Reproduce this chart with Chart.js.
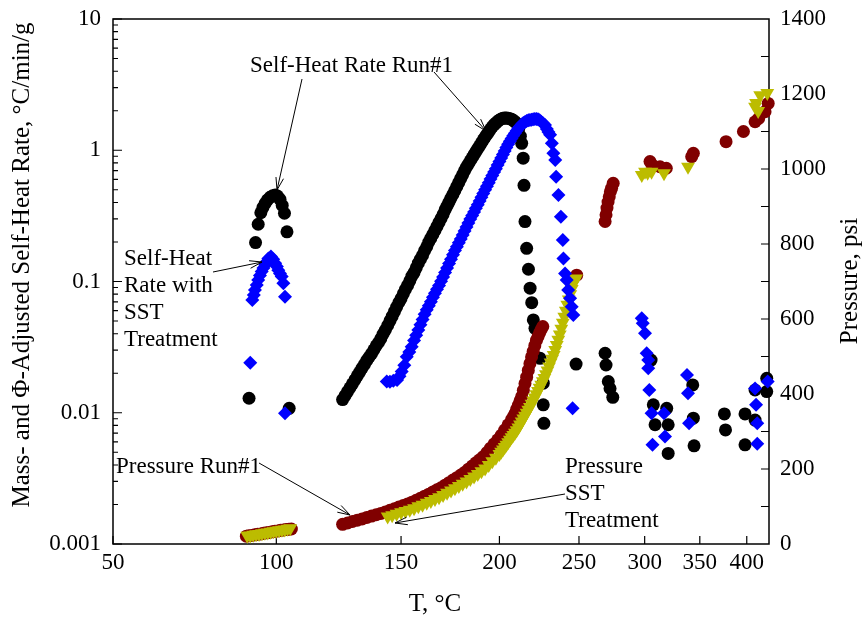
<!DOCTYPE html>
<html>
<head>
<meta charset="utf-8">
<script src="https://cdn.jsdelivr.net/npm/chart.js@4"></script>
<style>
  html, body { margin: 0; padding: 0; background: #fff; }
  canvas { display: block; }
</style>
</head>
<body>
<canvas id="arc" width="864" height="619"></canvas>
<script>
// ARC runs: temperature in degC, self-heat rate in degC/min/g, pressure in psi

// Self-heat rate, run #1
const run1T = [
  90.6, 92.8, 93.7, 94.6, 95.3, 96.1, 96.9, 97.8, 98.7, 99.6, 100.4, 101.3, 102.1, 102.9, 103.8, 104.6,
  125, 126, 127, 128, 129, 130, 131, 132, 133, 134, 135, 136, 137, 138, 139, 140, 141, 142, 143, 144,
  145, 146, 147, 148, 149, 150, 151, 152, 153, 154, 155, 156, 157, 158, 159, 160, 161, 162, 163, 164,
  165, 166, 167, 168, 169, 170, 171, 172, 173, 174, 175, 176, 177, 178, 179, 180, 181, 182, 183, 184,
  185, 186, 187, 188, 189, 190, 191, 192, 193, 194, 195, 196, 197, 198, 199, 200, 201, 202, 203, 204,
  205, 206, 207, 208, 209, 210, 211.2, 212.2,
  213.0, 213.9, 214.4, 215.0, 216.0, 217.1, 218.1, 219.1, 220.1, 221.1, 224.3, 226.3, 226.3, 226.7,
  248.0, 268.8, 269.5, 271.2, 272.5, 274.6, 305.4, 307.3, 308.8, 319.0, 320.3, 320.3,
  343.1, 343.7, 344.4, 375.2, 376.4, 398.0, 398.0, 409.7, 409.7, 423.8, 423.8
];
const run1Rate = [
  0.0129, 0.198, 0.273, 0.334, 0.365, 0.394, 0.418, 0.438, 0.450, 0.456, 0.448, 0.423, 0.380, 0.331, 0.239, 0.0108,
  0.0126, 0.0135, 0.0145, 0.0155, 0.0166, 0.0178, 0.0191, 0.0204, 0.0219, 0.0234, 0.0251, 0.0266, 0.0282, 0.0302, 0.0324, 0.0343, 0.0367, 0.0398, 0.0427, 0.0462,
  0.0501, 0.0543, 0.0589, 0.0638, 0.0692, 0.0741, 0.0804, 0.0871, 0.0933, 0.101, 0.110, 0.117, 0.127, 0.138, 0.148, 0.158, 0.172, 0.184, 0.200, 0.214,
  0.229, 0.245, 0.263, 0.282, 0.302, 0.324, 0.351, 0.376, 0.403, 0.432, 0.462, 0.495, 0.531, 0.569, 0.610, 0.653, 0.700, 0.745, 0.785, 0.832,
  0.877, 0.927, 0.977, 1.03, 1.08, 1.14, 1.20, 1.26, 1.32, 1.38, 1.45, 1.51, 1.57, 1.61, 1.66, 1.70, 1.73, 1.75, 1.76, 1.76,
  1.75, 1.74, 1.72, 1.69, 1.65, 1.60, 1.45, 1.28,
  1.13, 0.87, 0.54, 0.286, 0.179, 0.124, 0.089, 0.069, 0.051, 0.044, 0.026, 0.0168, 0.0115, 0.0083,
  0.0235, 0.0284, 0.0231, 0.0173, 0.0153, 0.0131, 0.0252, 0.0115, 0.0081, 0.0108, 0.0081, 0.0049,
  0.0163, 0.0091, 0.0056, 0.0098, 0.0074, 0.0098, 0.0057, 0.0149, 0.0088, 0.0183, 0.0145
];

// Self-heat rate with SST treatment
const sstT = [
  91.0, 91.7, 92.2, 92.6, 93.2, 93.7, 94.3, 94.9, 95.5, 96.1, 96.7, 97.2, 98.1, 98.9, 99.6, 100.2,
  100.7, 101.3, 101.9, 102.5, 103.1, 103.1,
  143.6, 145.0, 146.5, 148.2, 149.3, 150.3, 151.5, 152.6, 153.8, 154.9,
  156, 157, 158, 159, 160, 161, 162, 163, 164, 165, 166, 167, 168, 169, 170, 171, 172, 173, 174, 175,
  176, 177, 178, 179, 180, 181, 182, 183, 184, 185, 186, 187, 188, 189, 190, 191, 192, 193, 194, 195,
  196, 197, 198, 199, 200, 201, 202, 203, 204, 205, 206, 207, 208, 209, 210, 211, 212, 213, 214, 215,
  216, 217, 218, 219, 220, 221, 222, 223, 224, 225, 226,
  227.4, 228.6, 229.6, 230.7, 231.8, 232.8, 234.0, 234.6, 236.1, 237.7, 239.0, 239.4, 240.5, 241.6,
  242.6, 243.9, 245.0, 246.1, 245.6,
  297.6, 298.4, 300.3, 301.7, 303.0, 303.0, 303.9, 305.8, 306.6, 316.6, 317.5, 337.6, 338.6, 339.6,
  409.7, 410.9, 412.3, 412.3, 425.0
];
const sstRate = [
  0.024, 0.0722, 0.079, 0.0861, 0.094, 0.1026, 0.111, 0.119, 0.127, 0.134, 0.142, 0.150, 0.155, 0.148, 0.138, 0.130,
  0.122, 0.115, 0.109, 0.097, 0.0766, 0.0099,
  0.0173, 0.0172, 0.0175, 0.0178, 0.0190, 0.0206, 0.0230, 0.0267, 0.0290, 0.0319,
  0.0355, 0.0389, 0.0427, 0.0468, 0.0513, 0.0562, 0.0610, 0.0653, 0.0700, 0.0759, 0.0813, 0.0871, 0.0933, 0.1005, 0.108, 0.117, 0.127, 0.137, 0.148, 0.160,
  0.172, 0.184, 0.197, 0.211, 0.226, 0.243, 0.260, 0.279, 0.299, 0.318, 0.339, 0.361, 0.385, 0.411, 0.439, 0.468, 0.499, 0.531, 0.566, 0.603,
  0.641, 0.682, 0.724, 0.771, 0.820, 0.871, 0.927, 0.986, 1.05, 1.11, 1.17, 1.23, 1.29, 1.35, 1.41, 1.47, 1.52, 1.57, 1.61, 1.64,
  1.67, 1.69, 1.70, 1.71, 1.72, 1.73, 1.73, 1.72, 1.69, 1.65, 1.61,
  1.56, 1.45, 1.38, 1.31, 1.13, 0.949, 0.843, 0.629, 0.456, 0.311, 0.207, 0.150, 0.115, 0.1026,
  0.0861, 0.0744, 0.0643, 0.0556, 0.0108,
  0.0525, 0.0481, 0.0403, 0.0284, 0.0252, 0.0218, 0.0149, 0.0099, 0.0057, 0.0099, 0.0066, 0.0194, 0.0141, 0.0083,
  0.0153, 0.0115, 0.0083, 0.0058, 0.0173
];

// Pressure, run #1
const run1PT = [
  89.7, 90.5, 91.5, 92.5, 93.5, 94.5, 95.5, 96.5, 97.5, 98.5, 99.5, 100.5, 101.5, 102.5, 103.5, 104.5, 105.4,
  125, 127, 129, 131, 133, 135, 137, 139, 141, 143, 145, 147, 149, 151, 153, 155, 157, 159, 161, 163,
  165, 167, 169, 171, 173, 175, 177, 179, 181, 183, 185, 187, 189, 191, 193, 195, 197, 199, 201, 203,
  205, 207, 208, 209, 210, 211, 212, 213, 214, 215, 216, 217, 218, 219, 220, 221, 222, 223, 224, 225, 226,
  248.4, 268.8, 269.5, 270.2, 271.0, 271.9, 272.8, 273.7, 274.9, 304.5, 306.2, 313.1, 318.6,
  342.1, 343.7, 377.0, 396.2, 409.7, 414.0, 421.7, 425.6
];
const run1Psi = [
  21, 22, 23, 24.5, 26, 27, 28.5, 30, 31, 32.5, 34, 35, 36.5, 37.5, 38.5, 39.5, 40,
  52.5, 56, 60, 63.5, 67, 71, 74.5, 78, 81.5, 85.5, 90, 94, 98.5, 102.5, 107, 111.5, 116.5, 122, 127.5, 133,
  139, 144.5, 150, 157, 163.5, 170.5, 177, 184, 191, 199.5, 208, 216.5, 224.5, 233, 244, 255.5, 267, 278, 290, 304,
  318, 331.5, 339, 348, 359, 370, 381.5, 393, 410, 428, 445, 463, 481, 499, 514, 529, 543, 553, 563, 572, 580,
  717, 860, 878, 896, 912, 926, 940, 949, 962, 1020, 1011, 1006, 1002,
  1033, 1042, 1073, 1100, 1126, 1135, 1153, 1175
];

// Pressure with SST treatment
const sstPT = [
  90, 91, 92, 93, 94, 95, 96, 97, 98, 99, 100, 101, 102, 103, 104, 105,
  144, 146, 148, 150, 152, 154, 156, 158, 160, 162, 164, 166, 168, 170, 172, 174, 176, 178, 180, 182,
  184, 186, 188, 190, 192, 194, 196, 198, 200, 201, 202, 203, 204, 205, 206, 207, 208, 209, 210, 211,
  212, 213, 214, 215, 216, 217, 218, 219, 220, 221, 222, 223, 224, 225, 226, 227, 228, 229, 230, 231,
  232, 233, 234, 235, 236, 237, 238, 239, 240, 241, 242, 243, 244, 245, 246, 247, 248,
  297.6, 300.3, 302.5, 305.8, 316.6, 338.6, 409.7, 410.9, 413.4, 415.8, 424.5
];
const sstPsi = [
  22, 23, 24.5, 26, 27, 28.5, 30, 31, 32.5, 34, 35.5, 36.5, 38, 39, 40.5, 42,
  73.5, 77, 81, 84.5, 88, 91.5, 95.5, 100.5, 105, 110, 115, 120, 125, 130.5, 136.5, 142.5, 148.5, 154.5, 161, 167,
  173.5, 180, 187, 194, 201.5, 211, 220.5, 230, 240, 246, 252, 259, 265, 271.5, 278, 284.5, 291, 297, 303.5, 311,
  319, 326.5, 334.5, 342, 350, 358, 365.5, 374, 382.5, 391, 399.5, 408, 416.5, 425, 434, 443, 453, 463, 473.5, 484,
  494, 504, 517.5, 531, 545, 558.5, 574, 590, 606, 622, 638, 652, 666, 680, 694, 701, 708,
  984, 993, 990, 993, 989, 1006, 1166, 1176, 1155, 1197, 1203
];

const tempTicks = [50, 100, 150, 200, 250, 300, 350, 400];
const rateTicks = [0.001, 0.01, 0.1, 1, 10];
const psiTicks = [0, 200, 400, 600, 800, 1000, 1200, 1400];

// the temperature axis is linear in -1/T (kelvin), labelled in degC
const inv = t => -1000 / (t + 273.15);
const pts = (ts, vs) => ts.map((t, i) => ({ x: inv(t), y: vs[i] }));

const serif = '"Liberation Serif", "Times New Roman", serif';
Chart.defaults.font.family = serif;
Chart.defaults.color = '#000';

const axisTitles = [
  { text: 'Mass- and Φ-Adjusted Self-Heat Rate, °C/min/g', x: 22, y: 265, rot: -Math.PI / 2 },
  { text: 'Pressure, psi', x: 850, y: 281, rot: -Math.PI / 2 },
  { text: 'T, °C', x: 435, y: 604, rot: 0 }
];
const notes = [
  { lines: ['Self-Heat Rate Run#1'], x: 250, y: 66 },
  { lines: ['Self-Heat', 'Rate with', 'SST', 'Treatment'], x: 124, y: 259 },
  { lines: ['Pressure Run#1'], x: 116, y: 467 },
  { lines: ['Pressure', 'SST', 'Treatment'], x: 565, y: 467 }
];
const arrows = [
  [302, 79, 277, 190],
  [434, 72, 486, 131],
  [213, 272, 262, 262],
  [259, 463, 350, 515],
  [565, 494, 395, 523]
];

// box round the plot with ticks pointing inwards, plus axis titles
const frame = {
  id: 'frame',
  beforeDatasetsDraw(chart) {
    const { ctx, chartArea: a, scales } = chart;
    ctx.save();
    ctx.strokeStyle = '#000';
    ctx.lineWidth = 1.5;
    ctx.strokeRect(a.left, a.top, a.right - a.left, a.bottom - a.top);
    ctx.lineWidth = 1.2;
    ctx.beginPath();
    tempTicks.forEach(t => {
      const px = scales.x.getPixelForValue(inv(t));
      ctx.moveTo(px, a.bottom);
      ctx.lineTo(px, a.bottom - 8);
    });
    rateTicks.forEach((d, i) => {
      const py = scales.y.getPixelForValue(d);
      ctx.moveTo(a.left, py);
      ctx.lineTo(a.left + 9, py);
      if (i === rateTicks.length - 1) return;
      for (let k = 2; k <= 9; k++) {
        const my = scales.y.getPixelForValue(d * k);
        ctx.moveTo(a.left, my);
        ctx.lineTo(a.left + 5, my);
      }
    });
    for (let p = 100; p < 1400; p += 100) {
      const py = scales.p.getPixelForValue(p);
      ctx.moveTo(a.right, py);
      ctx.lineTo(a.right - 8, py);
    }
    ctx.stroke();
    ctx.restore();
  },
  afterDraw(chart) {
    const { ctx } = chart;
    ctx.save();
    ctx.font = '25px ' + serif;
    ctx.fillStyle = '#000';
    ctx.textAlign = 'center';
    ctx.textBaseline = 'middle';
    axisTitles.forEach(t => {
      ctx.save();
      ctx.translate(t.x, t.y);
      ctx.rotate(t.rot);
      ctx.fillText(t.text, 0, 0);
      ctx.restore();
    });
    ctx.restore();
  }
};

// text labels with open-headed arrows
const callouts = {
  id: 'callouts',
  afterDatasetsDraw(chart) {
    const { ctx } = chart;
    ctx.save();
    ctx.fillStyle = '#000';
    ctx.strokeStyle = '#000';
    ctx.font = '23px ' + serif;
    ctx.textAlign = 'left';
    ctx.textBaseline = 'middle';
    notes.forEach(n => n.lines.forEach((s, i) => ctx.fillText(s, n.x, n.y + i * 27)));
    ctx.lineWidth = 1;
    arrows.forEach(([x1, y1, x2, y2]) => {
      const ang = Math.atan2(y2 - y1, x2 - x1);
      ctx.beginPath();
      ctx.moveTo(x1, y1);
      ctx.lineTo(x2, y2);
      [0.3, -0.3].forEach(d => {
        ctx.moveTo(x2, y2);
        ctx.lineTo(x2 - 13 * Math.cos(ang + d), y2 - 13 * Math.sin(ang + d));
      });
      ctx.stroke();
    });
    ctx.restore();
  }
};

const tickFont = { size: 23, family: serif };

new Chart(document.getElementById('arc'), {
  type: 'scatter',
  data: {
    datasets: [
      {
        label: 'Self-Heat Rate with SST Treatment',
        data: pts(sstT, sstRate),
        yAxisID: 'y',
        order: 0,
        pointStyle: 'rectRot',
        pointRadius: 7,
        pointBackgroundColor: '#0000ff',
        pointBorderColor: '#0000ff',
        pointBorderWidth: 0
      },
      {
        label: 'Pressure SST Treatment',
        data: pts(sstPT, sstPsi),
        yAxisID: 'p',
        order: 1,
        pointStyle: 'triangle',
        rotation: 180,
        pointRadius: 8,
        pointBackgroundColor: '#bcbc00',
        pointBorderColor: '#bcbc00',
        pointBorderWidth: 0
      },
      {
        label: 'Pressure Run#1',
        data: pts(run1PT, run1Psi),
        yAxisID: 'p',
        order: 2,
        pointStyle: 'circle',
        pointRadius: 6.5,
        pointBackgroundColor: '#800000',
        pointBorderColor: '#800000',
        pointBorderWidth: 0
      },
      {
        label: 'Self-Heat Rate Run#1',
        data: pts(run1T, run1Rate),
        yAxisID: 'y',
        order: 3,
        pointStyle: 'circle',
        pointRadius: 6.5,
        pointBackgroundColor: '#000',
        pointBorderColor: '#000',
        pointBorderWidth: 0
      }
    ]
  },
  options: {
    responsive: false,
    devicePixelRatio: 1,
    animation: false,
    events: [],
    clip: false,
    layout: { padding: { top: 19 } },
    plugins: {
      legend: { display: false },
      tooltip: { enabled: false }
    },
    scales: {
      x: {
        type: 'linear',
        min: inv(50),
        max: inv(426.6),
        grid: { display: false, drawTicks: false },
        border: { display: false },
        afterBuildTicks: s => { s.ticks = tempTicks.map(t => ({ value: inv(t) })); },
        afterFit: s => { s.height = 75; s.paddingLeft = 0; s.paddingRight = 0; },
        ticks: {
          font: tickFont,
          padding: 5,
          maxRotation: 0,
          autoSkip: false,
          callback: v => String(Math.round(-1000 / v - 273.15))
        }
      },
      y: {
        type: 'logarithmic',
        position: 'left',
        min: 0.001,
        max: 10,
        grid: { display: false, drawTicks: false },
        border: { display: false },
        afterBuildTicks: s => { s.ticks = rateTicks.map(v => ({ value: v })); },
        afterFit: s => { s.width = 113; s.paddingTop = 0; s.paddingBottom = 0; },
        ticks: { font: tickFont, padding: 12, callback: v => String(v) }
      },
      p: {
        type: 'linear',
        position: 'right',
        min: 0,
        max: 1400,
        grid: { display: false, drawTicks: false },
        border: { display: false },
        afterBuildTicks: s => { s.ticks = psiTicks.map(v => ({ value: v })); },
        afterFit: s => { s.width = 95; s.paddingTop = 0; s.paddingBottom = 0; },
        ticks: { font: tickFont, padding: 11, callback: v => String(v) }
      }
    }
  },
  plugins: [frame, callouts]
});
</script>
</body>
</html>
